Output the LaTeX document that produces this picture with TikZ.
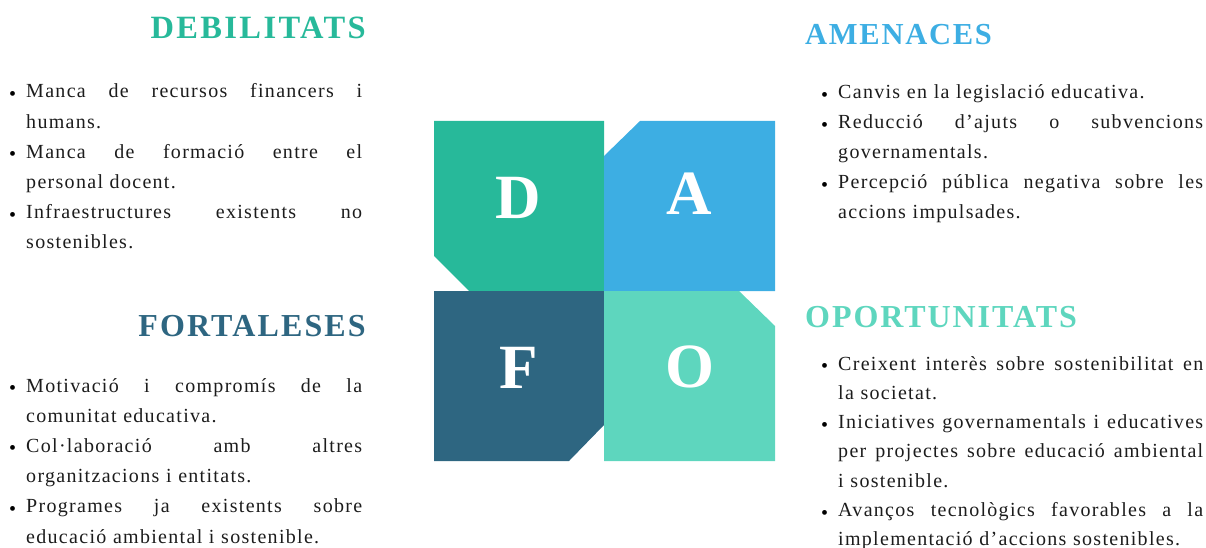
\documentclass[tikz,border=0pt]{standalone}
\usepackage{fontspec}
\setmainfont[LetterSpace=6.5]{Liberation Serif}
\newfontfamily\hfont[LetterSpace=6.5]{Liberation Serif}
\newfontfamily\lfont{Liberation Serif}
\definecolor{cD}{HTML}{27B99A}
\definecolor{cA}{HTML}{3DAEE3}
\definecolor{cF}{HTML}{2E6681}
\definecolor{cO}{HTML}{5ED6BE}
\definecolor{txt}{HTML}{1C1C1C}
\newlength\ind \setlength\ind{16pt}
\newcommand\bl{\makebox[\ind][l]{\hspace{-1pt}\raisebox{-2.5pt}{\color{black}•}}}
\newcommand\bj[2]{\bl\hbox to #1{#2}}
\newcommand\cj[2]{\hspace*{\ind}\hbox to #1{#2}}
\newcommand\bt[1]{\bl #1}
\newcommand\ct[1]{\hspace*{\ind}#1}
\newcommand\hf{\hfill}
\tikzset{
  quad/.style={draw=none},
  letter/.style={text=white, font=\lfont\bfseries\fontsize{63}{63}\selectfont, inner sep=0, anchor=base},
  heading/.style={inner sep=0},
  listL/.style={font=\fontsize{20}{30.2}\selectfont, text=txt, inner sep=0, anchor=base west, text width=352pt, align=left},
  listR/.style={font=\fontsize{20}{30}\selectfont, text=txt, inner sep=0, anchor=base west, text width=381pt, align=left}
}
\begin{document}
\begin{tikzpicture}[x=1pt, y=-1pt]
\useasboundingbox (0,0) rectangle (1206,548);
% quadrants
\fill[cD, quad] (434,121) -- (604,121) -- (604,291) -- (469,291) -- (434,256) -- cycle;
\fill[cA, quad] (640,121) -- (775,121) -- (775,291) -- (604,291) -- (604,156) -- cycle;
\fill[cF, quad] (434,291) -- (604,291) -- (604,425) -- (569,461) -- (434,461) -- cycle;
\fill[cO, quad] (604,291) -- (739,291) -- (775,326) -- (775,461) -- (604,461) -- cycle;
\node[letter] (lD) at (518,218) {D};
\node[letter] (lA) at (689.5,214) {A};
\node[letter] (lF) at (519,388) {F};
\node[letter] (lO) at (689.5,387.5) {O};
% headings
\node[heading, text=cD, anchor=base east, font={\hfont\addfontfeature{LetterSpace=7.3}\bfseries\fontsize{32.5}{32.5}\selectfont}] (hD) at (366,39) {DEBILITATS};
\node[heading, text=cA, anchor=base west, font={\hfont\addfontfeature{LetterSpace=5.7}\bfseries\fontsize{30.5}{30.5}\selectfont}] (hA) at (805,45) {AMENACES};
\node[heading, text=cF, anchor=base east, font={\hfont\addfontfeature{LetterSpace=6.7}\bfseries\fontsize{32}{32}\selectfont}] (hF) at (366,336) {FORTALESES};
\node[heading, text=cO, anchor=base west, font={\hfont\addfontfeature{LetterSpace=6.1}\bfseries\fontsize{32}{32}\selectfont}] (hO) at (805,327) {OPORTUNITATS};
% lists
\node[listL] (tD) at (10,98) {%
\bj{336pt}{Manca\hf de\hf recursos\hf financers\hf i}\\
\ct{humans.}\\
\bj{336pt}{Manca\hf de\hf formació\hf entre\hf el}\\
\ct{personal docent.}\\
\bj{336pt}{Infraestructures\hf existents\hf no}\\
\ct{sostenibles.}};
\node[listL] (tF) at (10,392) {%
\bj{336pt}{Motivació\hf i\hf compromís\hf de\hf la}\\
\ct{comunitat educativa.}\\
\bj{336pt}{Col·laboració\hf amb\hf altres}\\
\ct{organitzacions i entitats.}\\
\bj{336pt}{Programes\hf ja\hf existents\hf sobre}\\
\ct{educació ambiental i sostenible.}};
\node[listR] (tA) at (822,99) {%
\bt{Canvis en la legislació educativa.}\\
\bj{365pt}{Reducció\hf d’ajuts\hf o\hf subvencions}\\
\ct{governamentals.}\\
\bj{365pt}{Percepció\hf pública\hf negativa\hf sobre\hf les}\\
\ct{accions impulsades.}};
\node[listR, font=\fontsize{20}{29.3}\selectfont] (tO) at (822,370) {%
\bj{365pt}{Creixent\hf interès\hf sobre\hf sostenibilitat\hf en}\\
\ct{la societat.}\\
\bj{365pt}{Iniciatives\hf governamentals\hf i\hf educatives}\\
\cj{365pt}{per\hf projectes\hf sobre\hf educació\hf ambiental}\\
\ct{i sostenible.}\\
\bj{365pt}{Avanços\hf tecnològics\hf favorables\hf a\hf la}\\
\ct{implementació d’accions sostenibles.}};
\end{tikzpicture}
\end{document}
